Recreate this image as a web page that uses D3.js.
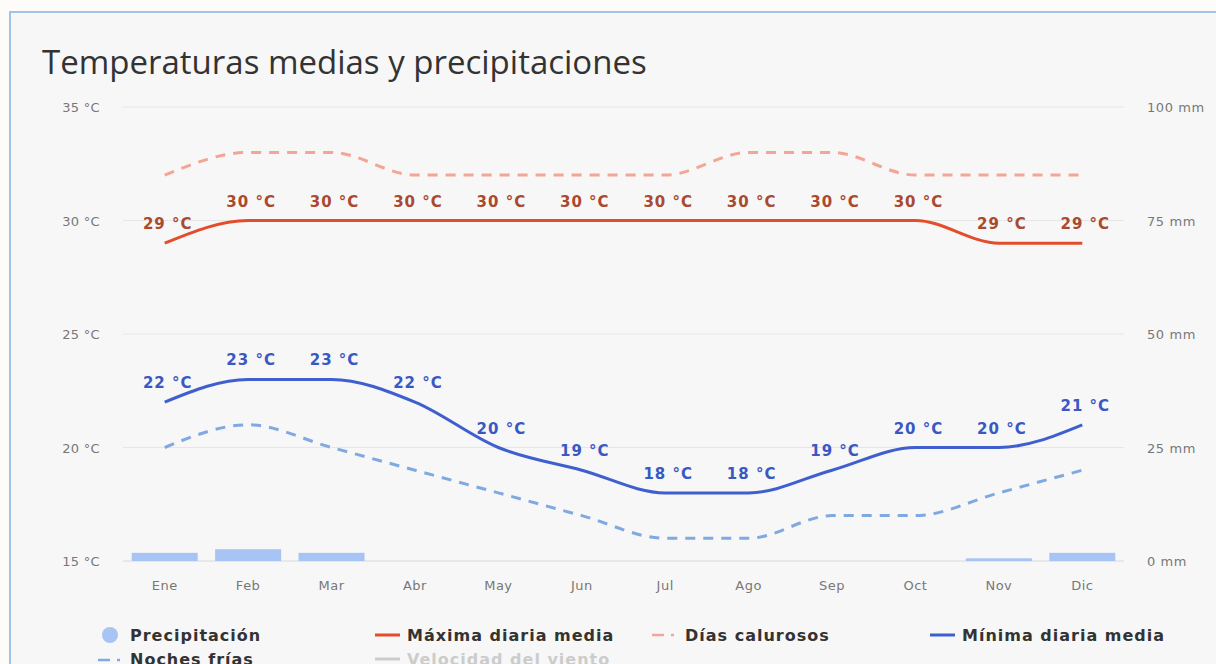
<!DOCTYPE html>
<html>
<head>
<meta charset="utf-8">
<script src="https://cdn.jsdelivr.net/npm/d3@7"></script>
<style>
  body { margin: 0; background: #fdfcf8; overflow: hidden; }
  svg { display: block; }
</style>
</head>
<body>
<div id="chart"></div>
<script>
// data
var months = ["Ene", "Feb", "Mar", "Abr", "May", "Jun", "Jul", "Ago", "Sep", "Oct", "Nov", "Dic"];
var maxTemp = [29, 30, 30, 30, 30, 30, 30, 30, 30, 30, 29, 29];
var hotDays = [32, 33, 33, 32, 32, 32, 32, 33, 33, 32, 32, 32];
var minTemp = [22, 23, 23, 22, 20, 19, 18, 18, 19, 20, 20, 21];
var coldNights = [20, 21, 20, 19, 18, 17, 16, 16, 17, 17, 18, 19];
var precip = [1.8, 2.6, 1.8, 0, 0, 0, 0, 0, 0, 0, 0.6, 1.8];
var tempTicks = [15, 20, 25, 30, 35];
var precipTicks = [0, 25, 50, 75, 100];

var W = 1216, H = 664;
var svg = d3.select("#chart").append("svg")
  .attr("width", W).attr("height", H);

// panel
svg.append("rect").attr("x", 10).attr("y", 12).attr("width", W + 50).attr("height", H)
  .attr("fill", "#f7f7f7").attr("stroke", "#9fc4e6").attr("stroke-width", 2);

svg.append("text").attr("x", 42).attr("y", 74)
  .attr("font-family", "Open Sans").attr("font-size", 33).attr("fill", "#333")
  .text("Temperaturas medias y precipitaciones");

var x = d3.scaleBand().domain(months).range([123, 1124]);
var y = d3.scaleLinear().domain([15, 35]).range([561, 107]);
var yP = d3.scaleLinear().domain([0, 100]).range([561, 107]);
var cx = function(i) { return x(months[i]) + x.bandwidth() / 2; };

// grid
svg.append("g").selectAll("line").data(tempTicks).join("line")
  .attr("x1", 123).attr("x2", 1124)
  .attr("y1", d => y(d)).attr("y2", d => y(d))
  .attr("stroke", d => d == 15 ? "#d8d8d8" : "#e6e6e6").attr("stroke-width", 1);

// left axis labels
svg.append("g").selectAll("text").data(tempTicks).join("text")
  .attr("x", 100).attr("y", d => y(d) + 5).attr("text-anchor", "end")
  .attr("font-family", "DejaVu Sans").attr("font-size", 13).attr("letter-spacing", 0.3)
  .attr("fill", "#777")
  .text(d => d + " °C");

// right axis labels
svg.append("g").selectAll("text").data(precipTicks).join("text")
  .attr("x", 1147).attr("y", d => yP(d) + 5)
  .attr("font-family", "DejaVu Sans").attr("font-size", 13).attr("letter-spacing", 0.6)
  .attr("fill", "#777")
  .text(d => d + " mm");

// month labels
svg.append("g").selectAll("text").data(months).join("text")
  .attr("x", (d, i) => cx(i)).attr("y", 590).attr("text-anchor", "middle")
  .attr("font-family", "DejaVu Sans").attr("font-size", 13).attr("letter-spacing", 0.5)
  .attr("fill", "#777")
  .text(d => d);

// precipitation bars
var bw = 66;
svg.append("g").selectAll("rect").data(precip).join("rect")
  .attr("x", (d, i) => cx(i) - bw / 2)
  .attr("y", d => yP(d))
  .attr("width", bw)
  .attr("height", d => yP(0) - yP(d))
  .attr("fill", "#a7c4f4");

var line = d3.line().x((d, i) => cx(i)).y(d => y(d)).curve(d3.curveMonotoneX);

function drawLine(data, color, width, dash) {
  svg.append("path").datum(data)
    .attr("d", line).attr("fill", "none")
    .attr("stroke", color).attr("stroke-width", width)
    .attr("stroke-dasharray", dash || null);
}

drawLine(hotDays, "#f4a595", 3, "10,8");
drawLine(coldNights, "#80a9e2", 3, "10,8");
drawLine(maxTemp, "#e44d2c", 3);
drawLine(minTemp, "#3f5fcf", 3);

function drawLabels(data, color) {
  svg.append("g").selectAll("text").data(data).join("text")
    .attr("x", (d, i) => cx(i) + 3).attr("y", d => y(d) - 14)
    .attr("text-anchor", "middle")
    .attr("font-family", "DejaVu Sans").attr("font-weight", "bold")
    .attr("font-size", 15).attr("letter-spacing", 1).attr("fill", color)
    .text(d => d + " °C");
}
drawLabels(maxTemp, "#a9492f");
drawLabels(minTemp, "#3a58c4");

// legend
var leg = svg.append("g").attr("font-family", "DejaVu Sans").attr("font-weight", "bold")
  .attr("font-size", 16).attr("letter-spacing", 1);

leg.append("circle").attr("cx", 110).attr("cy", 635).attr("r", 8).attr("fill", "#a7c4f4");
leg.append("text").attr("x", 130).attr("y", 641).attr("fill", "#333").text("Precipitación");

leg.append("line").attr("x1", 375).attr("x2", 400).attr("y1", 635).attr("y2", 635)
  .attr("stroke", "#e44d2c").attr("stroke-width", 3);
leg.append("text").attr("x", 407).attr("y", 641).attr("fill", "#333").text("Máxima diaria media");

leg.append("line").attr("x1", 652).attr("x2", 664).attr("y1", 635).attr("y2", 635)
  .attr("stroke", "#f4a595").attr("stroke-width", 2.5);
leg.append("line").attr("x1", 671).attr("x2", 674).attr("y1", 635).attr("y2", 635)
  .attr("stroke", "#f4a595").attr("stroke-width", 2.5);
leg.append("text").attr("x", 685).attr("y", 641).attr("fill", "#333").text("Días calurosos");

leg.append("line").attr("x1", 930).attr("x2", 955).attr("y1", 635).attr("y2", 635)
  .attr("stroke", "#3f5fcf").attr("stroke-width", 3);
leg.append("text").attr("x", 962).attr("y", 641).attr("fill", "#333").text("Mínima diaria media");

leg.append("line").attr("x1", 98).attr("x2", 110).attr("y1", 660).attr("y2", 660)
  .attr("stroke", "#80a9e2").attr("stroke-width", 2.5);
leg.append("line").attr("x1", 117).attr("x2", 120).attr("y1", 660).attr("y2", 660)
  .attr("stroke", "#80a9e2").attr("stroke-width", 2.5);
leg.append("text").attr("x", 130).attr("y", 665).attr("fill", "#333").text("Noches frías");

leg.append("line").attr("x1", 375).attr("x2", 400).attr("y1", 659).attr("y2", 659)
  .attr("stroke", "#cccccc").attr("stroke-width", 3);
leg.append("text").attr("x", 407).attr("y", 665).attr("fill", "#cccccc").text("Velocidad del viento");
</script>
</body>
</html>
